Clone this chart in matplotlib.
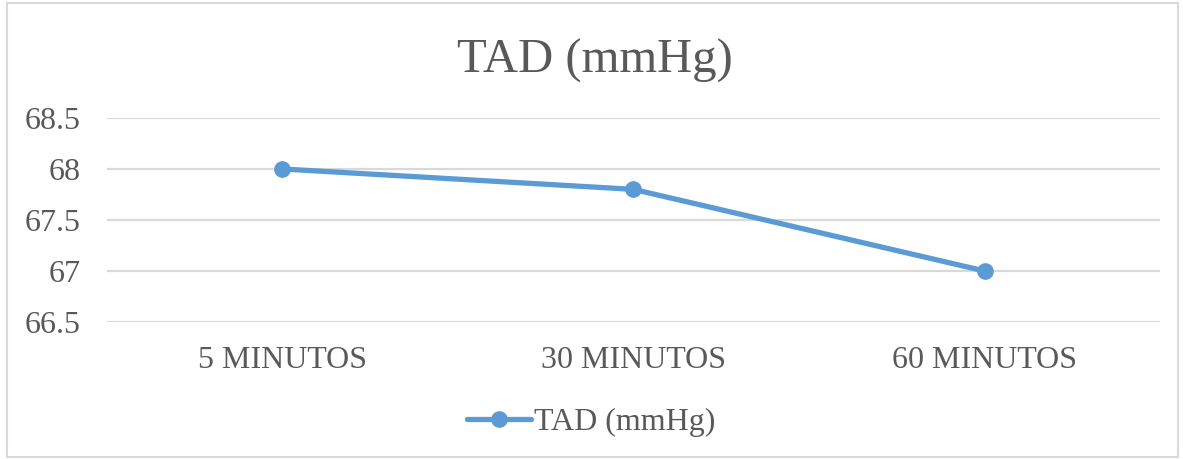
import matplotlib.pyplot as plt
from matplotlib.patches import Rectangle

# Data
categories = ["5 MINUTOS", "30 MINUTOS", "60 MINUTOS"]
tad_values = [68.0, 67.8, 67.0]
series_name = "TAD (mmHg)"
y_ticks = [66.5, 67, 67.5, 68, 68.5]
y_tick_labels = ["66.5", "67", "67.5", "68", "68.5"]

text_color = "#595959"
line_color = "#5B9BD5"
grid_color = "#D9D9D9"

plt.rcParams["font.family"] = ["Liberation Serif", "DejaVu Serif"]

fig = plt.figure(figsize=(11.83, 4.59), dpi=100)
ax = fig.add_axes([0.0904, 0.2985, 0.8902, 0.4445])

x = range(len(categories))
ax.plot(x, tad_values, color=line_color, linewidth=3.8, marker="o",
        markersize=11, label=series_name, solid_capstyle="round", zorder=3)

ax.set_xlim(-0.5, len(categories) - 0.5)
ax.set_ylim(66.5, 68.5)
ax.set_yticks(y_ticks)
ax.set_yticklabels(y_tick_labels)
ax.set_xticks(list(x))
ax.set_xticklabels(categories)
ax.tick_params(axis="both", length=0, colors=text_color, labelsize=23)
ax.tick_params(axis="x", pad=17)
ax.tick_params(axis="y", pad=19)

ax.grid(axis="y", color=grid_color, linewidth=1.6)
ax.set_axisbelow(True)
for spine in ax.spines.values():
    spine.set_visible(False)

fig.text(0.503, 0.867, series_name, ha="center", va="center",
         fontsize=35, color=text_color)

leg = fig.legend(loc="center", bbox_to_anchor=(0.5, 0.08), frameon=False,
                 fontsize=23, handlelength=2.0, handletextpad=0.1)
for t in leg.get_texts():
    t.set_color(text_color)

# light chart border
fig.patches.append(Rectangle((0.006, 0.004), 0.99, 0.99, transform=fig.transFigure,
                             fill=False, edgecolor=grid_color, linewidth=1.5))

fig.savefig("out.png", dpi=100)
